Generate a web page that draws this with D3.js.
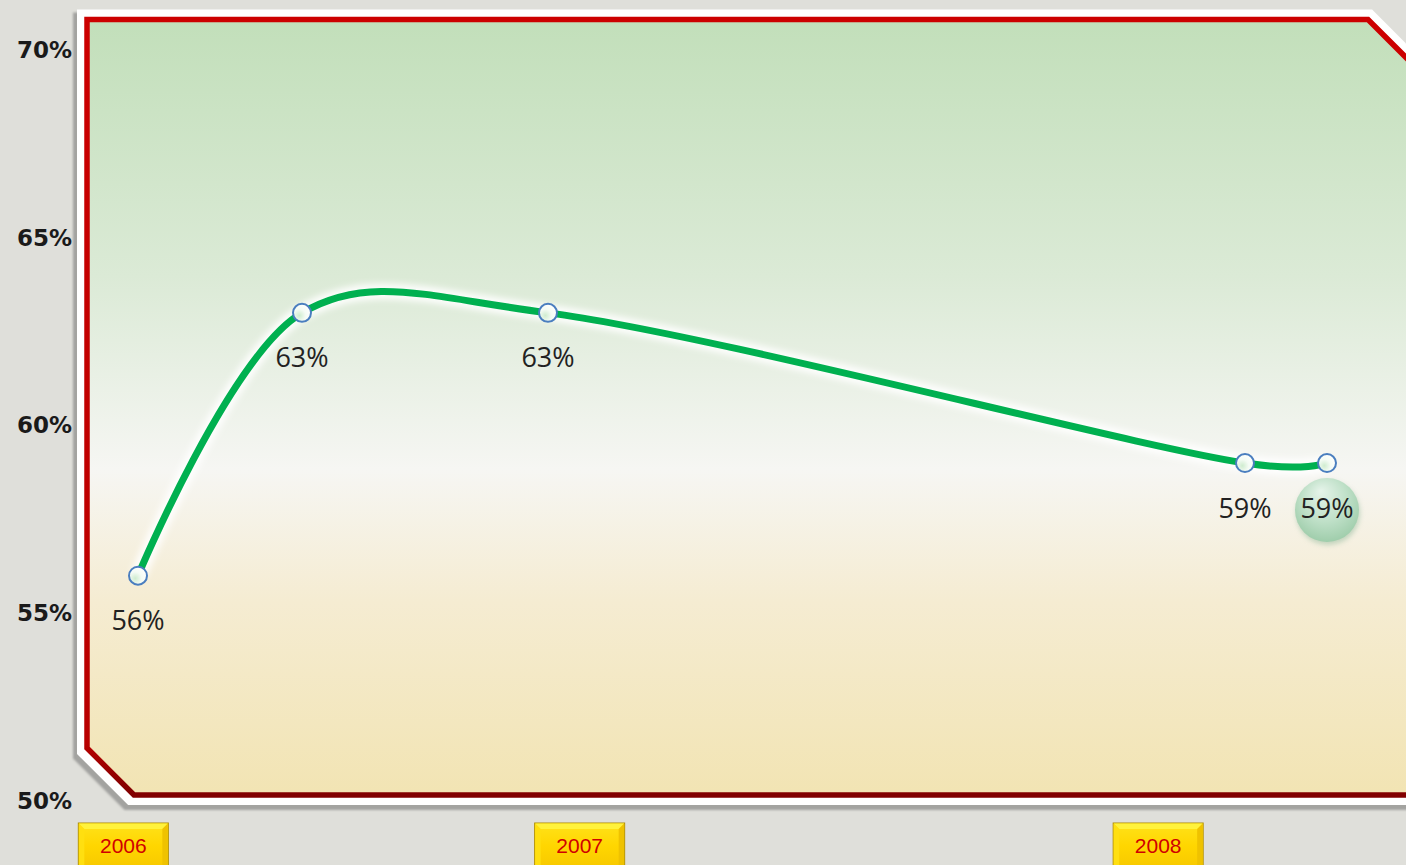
<!DOCTYPE html>
<html>
<head>
<meta charset="utf-8">
<script src="https://cdn.jsdelivr.net/npm/d3@7"></script>
<style>
  html, body { margin: 0; padding: 0; background: #dfdfda; overflow: hidden; }
  .yAxis text { font-family: "DejaVu Sans", sans-serif; font-weight: bold; font-size: 23px; fill: #1a1a1a; }
  .xAxis text { font-family: "Liberation Sans", Arial, sans-serif; font-size: 21px; fill: #d00000; }
  .valueLabel { font-family: "Open Sans", sans-serif; font-size: 27px; fill: #222; }
</style>
</head>
<body>
<div id="my_linechart"></div>
<script>
// months since Jan 2006 for each reading, and the share for that reading
var months = [0, 4, 10, 27, 29];
var values = [56, 63, 63, 59, 59];
var valueLabels = ["56%", "63%", "63%", "59%", "59%"];

// year labels on the bottom and where they sit (in months)
var yearLabels = ["2006", "2007", "2008"];
var yearTickMonths = [-0.37, 10.76, 24.87];

// y axis ticks
var yTicks = [50, 55, 60, 65, 70];

var width = 1406, height = 865;

var svg = d3.select("#my_linechart")
  .append("svg")
  .attr("width", width)
  .attr("height", height);

var defs = svg.append("defs");

// panel fill
var bg = defs.append("linearGradient")
  .attr("id", "panelFill")
  .attr("x1", 0).attr("y1", 0).attr("x2", 0).attr("y2", 1);
bg.append("stop").attr("offset", "0").attr("stop-color", "#c2dfba");
bg.append("stop").attr("offset", "0.33").attr("stop-color", "#dbead6");
bg.append("stop").attr("offset", "0.58").attr("stop-color", "#f6f6f3");
bg.append("stop").attr("offset", "0.75").attr("stop-color", "#f5ecd2");
bg.append("stop").attr("offset", "1").attr("stop-color", "#f2e4b3");

// red border, darker at the bottom
var rb = defs.append("linearGradient")
  .attr("id", "redBorder")
  .attr("gradientUnits", "userSpaceOnUse")
  .attr("x1", 0).attr("y1", 17).attr("x2", 0).attr("y2", 798);
rb.append("stop").attr("offset", "0").attr("stop-color", "#cc0000");
rb.append("stop").attr("offset", "0.93").attr("stop-color", "#b80000");
rb.append("stop").attr("offset", "0.985").attr("stop-color", "#860000");
rb.append("stop").attr("offset", "1").attr("stop-color", "#800000");

// marker fill
var mk = defs.append("radialGradient")
  .attr("id", "markerFill")
  .attr("cx", "0.35").attr("cy", "0.65").attr("r", "0.7");
mk.append("stop").attr("offset", "0").attr("stop-color", "#cfeccf");
mk.append("stop").attr("offset", "0.5").attr("stop-color", "#f4fbf4");
mk.append("stop").attr("offset", "1").attr("stop-color", "#ffffff");

// bubble behind the latest value
var bb = defs.append("radialGradient")
  .attr("id", "bubbleFill")
  .attr("cx", "0.5").attr("cy", "0.4").attr("r", "0.6")
  .attr("fx", "0.4").attr("fy", "0.2");
bb.append("stop").attr("offset", "0").attr("stop-color", "#e6f4ea");
bb.append("stop").attr("offset", "0.6").attr("stop-color", "#bfe0c8");
bb.append("stop").attr("offset", "1").attr("stop-color", "#9fcdab");

// gold label boxes
var gold = defs.append("linearGradient")
  .attr("id", "goldFill")
  .attr("x1", 0).attr("y1", 0).attr("x2", 0).attr("y2", 1);
gold.append("stop").attr("offset", "0").attr("stop-color", "#ffe21a");
gold.append("stop").attr("offset", "0.5").attr("stop-color", "#ffd600");
gold.append("stop").attr("offset", "1").attr("stop-color", "#f7c800");

var blur = defs.append("filter").attr("id", "glow")
  .attr("x", "-10%").attr("y", "-10%").attr("width", "120%").attr("height", "120%");
blur.append("feGaussianBlur").attr("stdDeviation", 3);

var shadow = defs.append("filter").attr("id", "shadow")
  .attr("x", "-5%").attr("y", "-5%").attr("width", "110%").attr("height", "110%");
shadow.append("feGaussianBlur").attr("stdDeviation", 1.2);

var bubbleShadow = defs.append("filter").attr("id", "bubbleShadow")
  .attr("x", "-50%").attr("y", "-50%").attr("width", "200%").attr("height", "200%");
bubbleShadow.append("feGaussianBlur").attr("stdDeviation", 2.5);

// scales
var x = d3.scaleLinear()
  .domain([0, 29])
  .range([138, 1327]);

var y = d3.scaleLinear()
  .domain([50, 70])
  .range([801, 50]);

// plot panel (cut corners top-right and bottom-left)
var L = 87, T = 19.5, R = 1460, B = 795, cut = 47;
function panelPath(dx, dy, grow) {
  var l = L - grow + dx, t = T - grow + dy, r = R + grow + dx, b = B + grow + dy;
  var c = cut + grow * 0.41;
  return "M" + l + "," + t +
    "L" + (1368 + grow * 0.41 + dx) + "," + t +
    "L" + (1368 + grow * 0.41 + dx + (r - 1368)) + "," + (t + (r - 1368)) +
    "L" + r + "," + b +
    "L" + (l + c) + "," + b +
    "L" + l + "," + (b - c) + "Z";
}

svg.append("path")
  .attr("d", panelPath(-3, 4, 11))
  .attr("fill", "#a3a3a0")
  .attr("filter", "url(#shadow)");

svg.append("path")
  .attr("d", panelPath(0, 0, 10))
  .attr("fill", "#ffffff");

svg.append("path")
  .attr("d", panelPath(0, 0, 0))
  .attr("fill", "url(#panelFill)")
  .attr("stroke", "url(#redBorder)")
  .attr("stroke-width", 5.5)
  .attr("stroke-linejoin", "miter");

// Y axis
svg.append("g")
  .attr("class", "yAxis")
  .attr("transform", "translate(72,0)")
  .call(d3.axisLeft(y).tickValues(yTicks).tickSize(0).tickPadding(0)
    .tickFormat(function(d) { return d + "%"; }))
  .call(function(g) { g.select(".domain").remove(); });

// X axis with gold boxes
var xAxis = svg.append("g")
  .attr("class", "xAxis")
  .attr("id", "xAxis")
  .attr("transform", "translate(0,823)")
  .call(d3.axisBottom(x).tickValues(yearTickMonths).tickSize(0).tickPadding(0)
    .tickFormat(function(d, i) { return yearLabels[i]; }));
xAxis.select(".domain").remove();

var bw = 90, bh = 46, bev = 6;
xAxis.selectAll(".tick").each(function() {
  var t = d3.select(this);
  t.insert("rect", "text")
    .attr("x", -bw / 2).attr("y", 0)
    .attr("width", bw).attr("height", bh)
    .attr("fill", "url(#goldFill)")
    .attr("stroke", "#b08e00")
    .attr("stroke-width", 1);
  // bevels
  t.insert("path", "text")
    .attr("d", "M" + (-bw / 2 + 0.5) + ",0.5L" + (bw / 2 - 0.5) + ",0.5L" + (bw / 2 - bev) + "," + bev + "L" + (-bw / 2 + bev) + "," + bev + "Z")
    .attr("fill", "#fff23c");
  t.insert("path", "text")
    .attr("d", "M" + (-bw / 2 + 0.5) + ",0.5L" + (-bw / 2 + bev) + "," + bev + "L" + (-bw / 2 + bev) + "," + bh + "L" + (-bw / 2 + 0.5) + "," + bh + "Z")
    .attr("fill", "#ffdf10");
  t.insert("path", "text")
    .attr("d", "M" + (bw / 2 - 0.5) + ",0.5L" + (bw / 2 - bev) + "," + bev + "L" + (bw / 2 - bev) + "," + bh + "L" + (bw / 2 - 0.5) + "," + bh + "Z")
    .attr("fill", "#efc200");
  t.select("text")
    .attr("y", 23)
    .attr("dy", "0.35em");
});

// line
var data = months.map(function(m, i) { return { m: m, v: values[i], label: valueLabels[i] }; });

var line = d3.line()
  .x(function(d) { return x(d.m); })
  .y(function(d) { return y(d.v); })
  .curve(d3.curveCatmullRom.alpha(0.3));

svg.append("path")
  .datum(data)
  .attr("d", line)
  .attr("fill", "none")
  .attr("stroke", "#ffffff")
  .attr("stroke-width", 16)
  .attr("stroke-opacity", 0.9)
  .attr("filter", "url(#glow)");

svg.append("path")
  .datum(data)
  .attr("d", line)
  .attr("fill", "none")
  .attr("stroke", "#00b050")
  .attr("stroke-width", 7)
  .attr("stroke-linecap", "round");

// bubble behind the most recent value
var last = data[data.length - 1];
svg.append("circle")
  .attr("cx", x(last.m) + 1)
  .attr("cy", y(last.v) + 50)
  .attr("r", 32)
  .attr("fill", "#8fb89a")
  .attr("opacity", 0.5)
  .attr("filter", "url(#bubbleShadow)");
svg.append("circle")
  .attr("cx", x(last.m))
  .attr("cy", y(last.v) + 47)
  .attr("r", 32)
  .attr("fill", "url(#bubbleFill)");

// markers
svg.selectAll(".marker")
  .data(data)
  .enter()
  .append("circle")
  .attr("class", "marker")
  .attr("cx", function(d) { return x(d.m); })
  .attr("cy", function(d) { return y(d.v); })
  .attr("r", 9)
  .attr("fill", "url(#markerFill)")
  .attr("stroke", "#4a7ebf")
  .attr("stroke-width", 2);

// value labels
svg.selectAll(".valueLabel")
  .data(data)
  .enter()
  .append("text")
  .attr("class", "valueLabel")
  .attr("x", function(d) { return x(d.m); })
  .attr("y", function(d) { return y(d.v) + 45; })
  .attr("dy", "0.35em")
  .attr("text-anchor", "middle")
  .text(function(d) { return d.label; });
</script>
</body>
</html>
